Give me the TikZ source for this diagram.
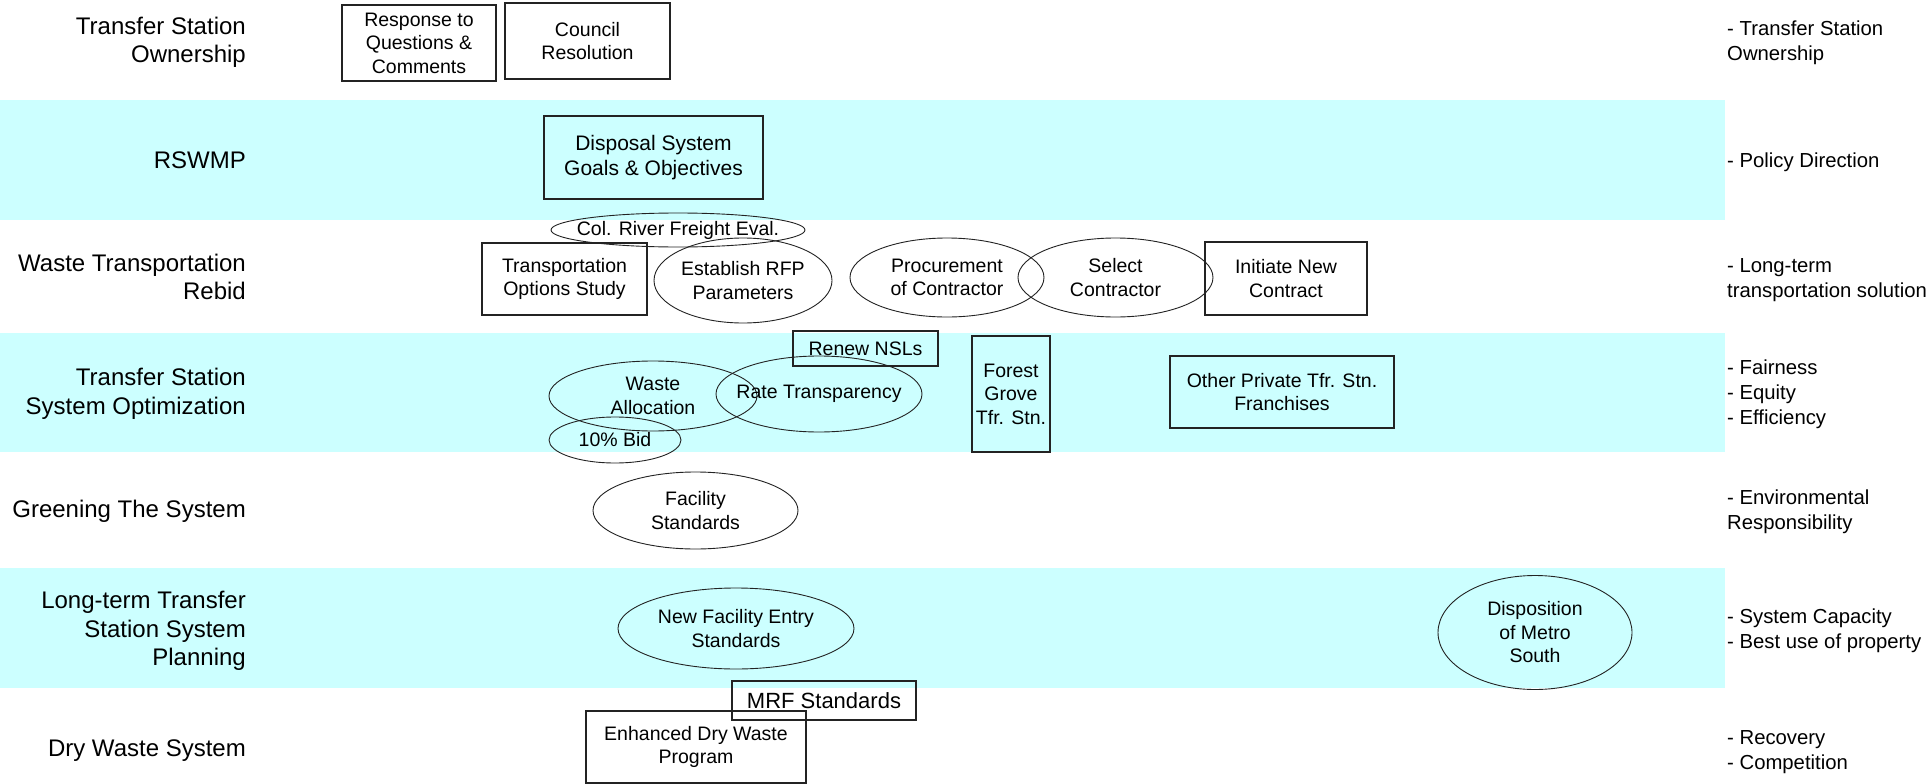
\documentclass[tikz,border=0pt]{standalone}
\usepackage{fontspec}
\setmainfont{Liberation Sans}
\usetikzlibrary{shapes.geometric}
\definecolor{band}{RGB}{204,255,255}
\definecolor{edge}{RGB}{35,35,35}
\newcommand\ellnode[5]{\node[txt] (#1) at (#2) {#5};
  \draw[ell] (#1.center) ellipse [x radius=#3, y radius=#4];}
\begin{document}
\begin{tikzpicture}[x=1pt,y=-1pt,
  box/.style={draw=edge, line width=1.2pt, inner sep=0pt, align=center, font=\fontsize{19.5}{23.5}\selectfont},
  txt/.style={inner sep=0pt, align=center, font=\fontsize{19.5}{23.5}\selectfont},
  ell/.style={draw=edge, line width=0.9pt},
  lefttxt/.style={inner sep=0pt, align=right, anchor=east, font=\fontsize{24}{28.5}\selectfont},
  righttxt/.style={inner sep=0pt, align=left, anchor=west, font=\fontsize{20.3}{25}\selectfont}]

\useasboundingbox (0,0) rectangle (1931,784);
\fill[white] (0,0) rectangle (1931,784);
\fill[band] (0,100) rectangle (1725,220);
\fill[band] (0,333) rectangle (1725,452);
\fill[band] (0,568) rectangle (1725,688);

% left labels
\node[lefttxt] (l1) at (246,42.5) {Transfer Station\\Ownership};
\node[lefttxt] (l2) at (246,160) {RSWMP};
\node[lefttxt] (l3) at (246,277) {Waste Transportation\\Rebid};
\node[lefttxt] (l4) at (246,394) {Transfer Station\\System Optimization};
\node[lefttxt] (l5) at (246,511) {Greening The System};
\node[lefttxt] (l6) at (246,631) {Long-term Transfer\\Station System\\Planning};
\node[lefttxt] (l7) at (246,751) {Dry Waste System};

% right labels
\node[righttxt] (r1) at (1727,43) {- Transfer Station\\Ownership};
\node[righttxt] (r2) at (1727,162) {- Policy Direction};
\node[righttxt] (r3) at (1727,280) {- Long-term\\transportation solution};
\node[righttxt] (r4) at (1727,394) {- Fairness\\- Equity\\- Efficiency};
\node[righttxt] (r5) at (1727,512) {- Environmental\\Responsibility};
\node[righttxt] (r6) at (1727,631) {- System Capacity\\- Best use of property};
\node[righttxt] (r7) at (1727,752) {- Recovery\\- Competition};

% boxes
\node[box, minimum width=154pt, minimum height=76pt] (resp) at (419,43) {Response to\\Questions \&\\Comments};
\node[box, minimum width=165pt, minimum height=76pt] (council) at (587.5,41) {Council\\Resolution};
\node[box, minimum width=219pt, minimum height=83pt, font=\fontsize{21}{25}\selectfont] (disposal) at (653.5,157.5) {Disposal System\\Goals \& Objectives};
\node[box, minimum width=165pt, minimum height=72pt] (trans) at (564.5,279) {Transportation\\Options Study};
\node[box, minimum width=162pt, minimum height=73pt] (initiate) at (1286,278.5) {Initiate New\\Contract};
\node[box, minimum width=145pt, minimum height=35pt] (renew) at (865.5,348.5) {Renew NSLs};
\node[box, minimum width=78pt, minimum height=116pt] (forest) at (1011,394) {Forest\\Grove\\Tfr. Stn.};
\node[box, minimum width=224pt, minimum height=72pt] (other) at (1282,392) {Other Private Tfr. Stn.\\Franchises};
\node[box, minimum width=184pt, minimum height=39pt, font=\fontsize{22}{26}\selectfont] (mrf) at (824,700.5) {MRF Standards};
\node[box, minimum width=220pt, minimum height=72pt] (enhanced) at (696,747) {Enhanced Dry Waste\\Program};

% ellipses
\ellnode{col}{678,230}{127}{17}{Col. River Freight Eval.}
\ellnode{rfp}{743,280.5}{89}{42.5}{Establish RFP\\Parameters}
\ellnode{proc}{947,277.5}{97}{39.5}{Procurement\\of Contractor}
\ellnode{select}{1115.5,277.5}{97.5}{39.5}{Select\\Contractor}
\ellnode{waste}{653,396}{104}{35}{Waste\\Allocation}
\ellnode{rate}{819,394}{103}{38}{Rate Transparency}
\ellnode{bid}{615,440}{66}{23}{10\% Bid}
\ellnode{facility}{695.5,510.5}{102.5}{38.5}{Facility\\Standards}
\ellnode{newfac}{736,628.5}{118}{40.5}{New Facility Entry\\Standards}
\ellnode{disp}{1535,632.5}{97}{57}{Disposition\\of Metro\\South}
\end{tikzpicture}
\end{document}
